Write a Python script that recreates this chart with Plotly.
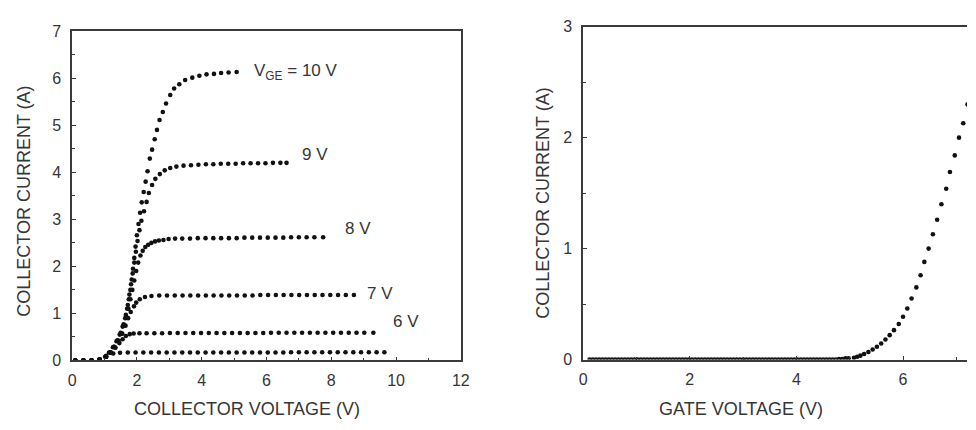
import plotly.graph_objects as go

# ---------------- Left panel: output characteristics (IC vs VCE) ----------------
V10 = [0.1, 0.35, 0.6, 0.85, 1.02, 1.14, 1.26, 1.37, 1.47, 1.56, 1.64, 1.7, 1.75, 1.8,
       1.84, 1.88, 1.92, 1.96, 2.0, 2.05, 2.1, 2.15, 2.21, 2.27, 2.33, 2.4, 2.47, 2.55,
       2.62, 2.7, 2.8, 2.9, 3.03, 3.15, 3.31, 3.49, 3.71, 3.93, 4.15, 4.38, 4.6, 4.83, 5.08]
I10 = [0, 0, 0, 0.02, 0.08, 0.17, 0.28, 0.41, 0.55, 0.72, 0.9, 1.1, 1.3, 1.5,
       1.72, 1.95, 2.18, 2.42, 2.66, 2.9, 3.14, 3.36, 3.58, 3.8, 4.02, 4.29, 4.48, 4.70,
       4.90, 5.11, 5.28, 5.46, 5.64, 5.78, 5.87, 5.96, 6.01, 6.05, 6.08, 6.09, 6.11, 6.12, 6.13]

V9 = [0.1, 0.35, 0.6, 0.85, 1.05, 1.17, 1.29, 1.4, 1.5, 1.59, 1.66, 1.72, 1.77, 1.82,
      1.87, 1.92, 1.97, 2.02, 2.08, 2.14, 2.22, 2.3, 2.37, 2.47, 2.57, 2.71, 2.86, 3.03,
      3.22, 3.44, 3.67, 3.9, 4.13, 4.36, 4.59, 4.82, 5.05, 5.28, 5.51, 5.74, 5.97, 6.2,
      6.43, 6.62]
I9 = [0, 0, 0, 0.02, 0.08, 0.17, 0.29, 0.43, 0.59, 0.77, 0.97, 1.18, 1.4, 1.62,
      1.85, 2.08, 2.31, 2.54, 2.77, 2.97, 3.17, 3.37, 3.56, 3.73, 3.86, 3.96, 4.04, 4.09,
      4.12, 4.14, 4.15, 4.16, 4.17, 4.17, 4.18, 4.18, 4.18, 4.19, 4.19, 4.19, 4.19, 4.2,
      4.2, 4.2]

V8 = [0.1, 0.35, 0.6, 0.85, 1.05, 1.18, 1.3, 1.41, 1.51, 1.6, 1.68, 1.74, 1.8, 1.86,
      1.92, 1.98, 2.04, 2.11, 2.18, 2.26, 2.35, 2.45, 2.56, 2.68, 2.82, 2.98, 3.18, 3.4,
      3.64, 3.88, 4.12, 4.36, 4.6, 4.84, 5.08, 5.32, 5.56, 5.8, 6.04, 6.28, 6.52, 6.76,
      7.0, 7.24, 7.48, 7.75]
I8 = [0, 0, 0, 0.02, 0.08, 0.17, 0.29, 0.42, 0.57, 0.74, 0.92, 1.1, 1.3, 1.5,
      1.7, 1.9, 2.08, 2.23, 2.33, 2.41, 2.46, 2.5, 2.53, 2.55, 2.56, 2.58, 2.59, 2.59,
      2.59, 2.6, 2.6, 2.6, 2.6, 2.6, 2.6, 2.61, 2.61, 2.61, 2.61, 2.61, 2.61, 2.62,
      2.62, 2.62, 2.62, 2.62]

V7 = [0.1, 0.35, 0.6, 0.85, 1.05, 1.19, 1.32, 1.44, 1.55, 1.65, 1.73, 1.81, 1.91, 1.98,
      2.09, 2.25, 2.45, 2.69, 2.93, 3.17, 3.41, 3.65, 3.89, 4.13, 4.37, 4.61, 4.85, 5.09,
      5.33, 5.57, 5.81, 6.05, 6.29, 6.53, 6.77, 7.01, 7.25, 7.49, 7.73, 7.97, 8.21, 8.45,
      8.7]
I7 = [0, 0, 0, 0.02, 0.08, 0.17, 0.28, 0.42, 0.57, 0.74, 0.9, 1.03, 1.15, 1.23,
      1.3, 1.35, 1.37, 1.38, 1.38, 1.38, 1.38, 1.38, 1.38, 1.38, 1.38, 1.38, 1.38, 1.38,
      1.38, 1.38, 1.39, 1.39, 1.39, 1.39, 1.39, 1.39, 1.39, 1.39, 1.39, 1.39, 1.39, 1.39,
      1.39]

V6 = [0.1, 0.35, 0.6, 0.85, 1.05, 1.2, 1.34, 1.46, 1.56, 1.66, 1.78, 1.9, 2.08,
      2.3, 2.54, 2.78, 3.02, 3.26, 3.5, 3.74, 3.98, 4.22, 4.46, 4.7, 4.94, 5.18, 5.42,
      5.66, 5.9, 6.14, 6.38, 6.62, 6.86, 7.1, 7.34, 7.58, 7.82, 8.06, 8.3, 8.54, 8.78,
      9.02, 9.3]
I6 = [0, 0, 0, 0.02, 0.08, 0.17, 0.27, 0.37, 0.45, 0.52, 0.56, 0.575, 0.58,
      0.58, 0.58, 0.58, 0.585, 0.585, 0.585, 0.585, 0.585, 0.585, 0.585, 0.585, 0.585, 0.585, 0.585,
      0.585, 0.585, 0.59, 0.59, 0.59, 0.59, 0.59, 0.59, 0.59, 0.59, 0.59, 0.59, 0.59, 0.59,
      0.59, 0.59]

V5 = [0.1, 0.35, 0.6, 0.85, 1.05, 1.27, 1.48, 1.72, 1.96, 2.2, 2.44, 2.68, 2.92, 3.16,
      3.4, 3.64, 3.88, 4.12, 4.36, 4.6, 4.84, 5.08, 5.32, 5.56, 5.8, 6.04, 6.28, 6.52,
      6.76, 7.0, 7.24, 7.48, 7.72, 7.96, 8.2, 8.44, 8.68, 8.92, 9.16, 9.4, 9.64]
I5 = [0, 0, 0, 0.02, 0.1, 0.15, 0.165, 0.17, 0.17, 0.17, 0.17, 0.17, 0.17, 0.17,
      0.17, 0.17, 0.17, 0.17, 0.17, 0.17, 0.17, 0.17, 0.17, 0.17, 0.17, 0.17, 0.17, 0.17,
      0.175, 0.175, 0.175, 0.175, 0.175, 0.175, 0.175, 0.175, 0.175, 0.175, 0.175, 0.175, 0.175]

CURVE_LABELS = ["V<sub>GE</sub> = 10 V", "9 V", "8 V", "7 V", "6 V"]
LABEL_X = [5.55, 7.05, 8.37, 9.04, 9.85]
LABEL_Y = [6.13, 4.37, 2.8, 1.43, 0.82]

# ---------------- Right panel: transfer characteristic (IC vs VGE) ----------------
VG = [0.12, 0.18, 0.24, 0.30, 0.36, 0.42, 0.48, 0.54, 0.60, 0.66,
      0.72, 0.78, 0.84, 0.90, 0.96, 1.02, 1.08, 1.14, 1.20, 1.26,
      1.32, 1.38, 1.44, 1.50, 1.56, 1.62, 1.68, 1.74, 1.80, 1.86,
      1.92, 1.98, 2.04, 2.10, 2.16, 2.22, 2.28, 2.34, 2.40, 2.46,
      2.52, 2.58, 2.64, 2.70, 2.76, 2.82, 2.88, 2.94, 3.00, 3.06,
      3.12, 3.18, 3.24, 3.30, 3.36, 3.42, 3.48, 3.54, 3.60, 3.66,
      3.72, 3.78, 3.84, 3.90, 3.96, 4.02, 4.08, 4.14, 4.20, 4.26,
      4.32, 4.38, 4.44, 4.50, 4.56, 4.62, 4.68, 4.74, 4.80, 4.86,
      4.92, 4.98,
      5.08, 5.14, 5.20, 5.27, 5.35, 5.43, 5.51, 5.59, 5.67, 5.75,
      5.83, 5.92, 6.00, 6.08, 6.16, 6.25, 6.33, 6.40, 6.48, 6.56,
      6.64, 6.72, 6.81, 6.88, 6.97, 7.05, 7.13, 7.21]
IC = [0.0, 0.0, 0.0, 0.0, 0.0, 0.0, 0.0, 0.0, 0.0, 0.0,
      0.0, 0.0, 0.0, 0.0, 0.0, 0.0, 0.0, 0.0, 0.0, 0.0,
      0.0, 0.0, 0.0, 0.0, 0.0, 0.0, 0.0, 0.0, 0.0, 0.0,
      0.0, 0.0, 0.0, 0.0, 0.0, 0.0, 0.0, 0.0, 0.0, 0.0,
      0.0, 0.0, 0.0, 0.0, 0.0, 0.0, 0.0, 0.0, 0.0, 0.0,
      0.0, 0.0, 0.0, 0.0, 0.0, 0.0, 0.0, 0.0, 0.0, 0.0,
      0.0, 0.0, 0.0, 0.0, 0.0, 0.0, 0.0, 0.0, 0.0, 0.0,
      0.0, 0.0, 0.0, 0.0, 0.0, 0.0, 0.0, 0.0, 0.005, 0.005,
      0.01, 0.01,
      0.015, 0.025, 0.035, 0.05, 0.068, 0.09, 0.115, 0.145, 0.18, 0.22,
      0.265, 0.32, 0.385, 0.46, 0.55, 0.65, 0.76, 0.88, 1.0, 1.13,
      1.26, 1.4, 1.54, 1.69, 1.84, 2.0, 2.13, 2.3]

FONT = "Liberation Sans, Arial, Helvetica, sans-serif"
TXT = "#363636"
LINE = "#3a3a3a"
DOT = "#111111"
W, H = 976, 430

fig = go.Figure()

for vx, iy in [(V10, I10), (V9, I9), (V8, I8), (V7, I7), (V6, I6), (V5, I5)]:
    fig.add_trace(go.Scatter(x=vx, y=iy, mode="markers", xaxis="x", yaxis="y",
                             marker=dict(size=4.6, color=DOT), showlegend=False,
                             hoverinfo="skip"))

fig.add_trace(go.Scatter(x=VG, y=IC, mode="markers", xaxis="x2", yaxis="y2",
                         marker=dict(size=4.6, color=DOT), showlegend=False,
                         hoverinfo="skip"))

for txt, lx, ly in zip(CURVE_LABELS, LABEL_X, LABEL_Y):
    fig.add_annotation(x=lx, y=ly, xref="x", yref="y", text=txt, showarrow=False,
                       xanchor="left", yanchor="middle",
                       font=dict(family=FONT, size=17, color=TXT))

# axis titles (placed as in the reference scan)
TITLES = [
    ("COLLECTOR VOLTAGE (V)", 246.5, 418, 0),
    ("GATE VOLTAGE (V)", 746.5, 418, 0),
    ("COLLECTOR CURRENT (A)", 20, 201, -90),
    ("COLLECTOR CURRENT (A)", 546, 203, -90),
]
for txt, px, py, ang in TITLES:
    fig.add_annotation(x=px / W, y=1 - py / H, xref="paper", yref="paper", text=txt,
                       showarrow=False, xanchor="center", yanchor="middle",
                       textangle=ang, font=dict(family=FONT, size=18, color=TXT))

axis_common = dict(
    showgrid=False, zeroline=False, showline=True, linecolor=LINE, linewidth=1.5,
    ticks="inside", ticklen=4, tickwidth=1, tickcolor=LINE,
    tickfont=dict(family=FONT, size=16, color=TXT),
)

fig.update_layout(
    width=W, height=H,
    margin=dict(l=0, r=0, t=0, b=0),
    paper_bgcolor="white", plot_bgcolor="white",
    xaxis=dict(**axis_common, domain=[69 / W, 463 / W], range=[0, 12],
               tickvals=[0, 2, 4, 6, 8, 10, 12], mirror=True, anchor="y",
               minor=dict(ticks="inside", dtick=1, ticklen=3, tickcolor=LINE),
               ticklabelstandoff=5),
    yaxis=dict(**axis_common, domain=[(H - 367) / H, (H - 24) / H], range=[0, 7],
               tickvals=[0, 1, 2, 3, 4, 5, 6, 7], mirror=True, anchor="x",
               minor=dict(ticks="inside", dtick=0.5, ticklen=3, tickcolor=LINE),
               ticklabelstandoff=6),
    xaxis2=dict(**axis_common, domain=[587 / W, 1.0], range=[0, 7.2],
                tickvals=[0, 2, 4, 6], mirror=True, anchor="y2",
                minor=dict(ticks="inside", dtick=1, ticklen=3, tickcolor=LINE),
                ticklabelstandoff=5),
    yaxis2=dict(**axis_common, domain=[(H - 366) / H, (H - 19.5) / H], range=[0, 3],
                tickvals=[0, 1, 2, 3], mirror=False, anchor="x2",
                minor=dict(ticks="inside", dtick=0.5, ticklen=3, tickcolor=LINE),
                ticklabelstandoff=6),
)

fig.write_html("out.html")
